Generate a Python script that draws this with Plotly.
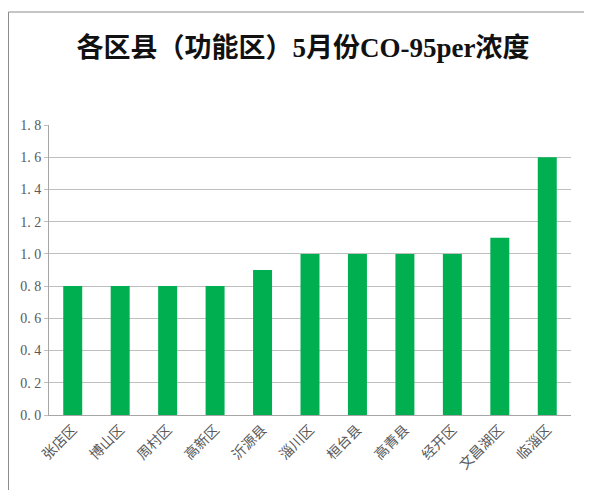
import plotly.graph_objects as go

categories = ["张店区", "博山区", "周村区", "高新区", "沂源县", "淄川区", "桓台县", "高青县", "经开区", "文昌湖区", "临淄区"]
values = [0.8, 0.8, 0.8, 0.8, 0.9, 1.0, 1.0, 1.0, 1.0, 1.1, 1.6]
y_ticks = [0.0, 0.2, 0.4, 0.6, 0.8, 1.0, 1.2, 1.4, 1.6, 1.8]
y_tick_text = ["0. 0", "0. 2", "0. 4", "0. 6", "0. 8", "1. 0", "1. 2", "1. 4", "1. 6", "1. 8"]
title = "各区县（功能区）5月份CO-95per浓度"

W, H = 592, 490
off = 8  # page body margin offset
ml, mr, mt, mb = 49 - off, 21 + off, 125 - off, 75 + off
pw, ph = W - ml - mr, H - mt - mb

fig = go.Figure(go.Bar(x=categories, y=values, marker_color="#00B050", marker_line_width=0))

fig.update_layout(
    width=W, height=H,
    margin=dict(l=ml, r=mr, t=mt, b=mb, autoexpand=False),
    paper_bgcolor="white", plot_bgcolor="white",
    bargap=0.6,
    showlegend=False,
    font=dict(family="Liberation Serif, Noto Sans CJK SC", color="#595959", size=14),
    title=dict(text="<b>" + title + "</b>", x=(303 - off) / W, xanchor="center", y=1 - (48 - off) / H, yanchor="middle",
               font=dict(family="Liberation Serif, Noto Sans CJK SC", size=27, color="#111111")),
    xaxis=dict(tickangle=-45, showline=True, linecolor="#a6a6a6", linewidth=1, ticks="",
               tickfont=dict(size=14, color="#595959")),
    yaxis=dict(range=[0, 1.8], tickvals=y_ticks, ticktext=y_tick_text, showgrid=True,
               gridcolor="#bfbfbf", gridwidth=1, showline=True, linecolor="#a6a6a6",
               ticks="outside", ticklen=4, tickcolor="#bfbfbf", zeroline=False,
               tickfont=dict(size=14, color="#595959")),
    shapes=[dict(type="rect", xref="paper", yref="paper",
                 x0=(0.5 - ml) / pw, x1=(W + 20 - ml) / pw,
                 y0=-(H + 20 - mt - ph) / ph, y1=1 + (mt - (12 - off)) / ph,
                 line=dict(color="#8c8c8c", width=1), layer="below")],
)

fig.write_html("out.html")
